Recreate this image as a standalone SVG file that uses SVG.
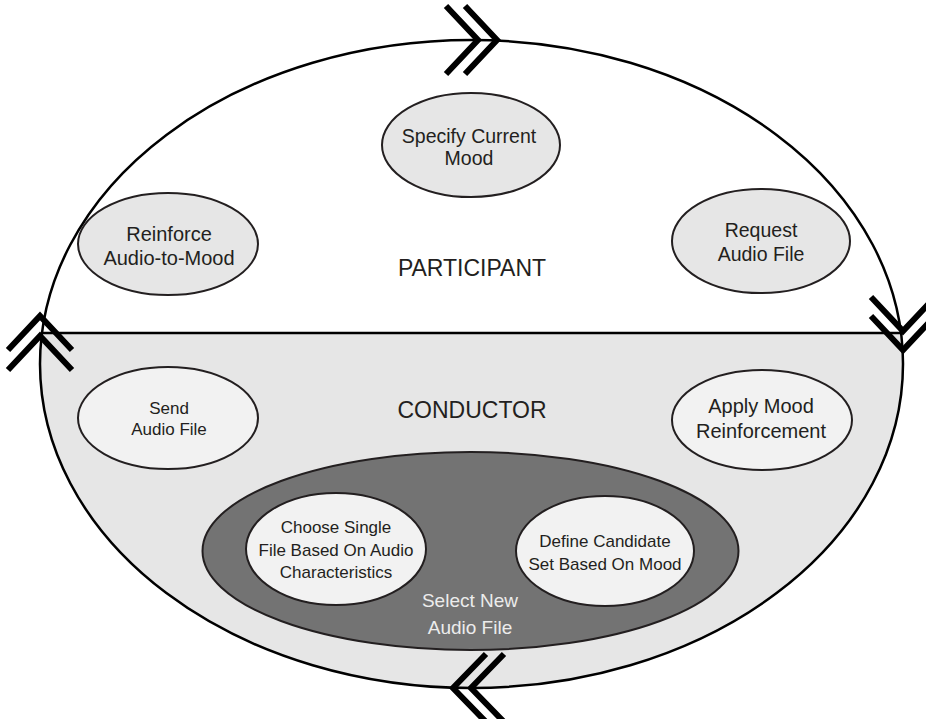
<svg xmlns="http://www.w3.org/2000/svg" width="926" height="719" viewBox="0 0 926 719">
<style>
text{font-family:"Liberation Sans","Open Sans",sans-serif;text-anchor:middle;fill:#231f20}
.s17{font-size:17px}
.s19{font-size:19.5px}
.s20{font-size:20px}
.big{font-size:23px}
.wl{font-size:19px;fill:#ececec}
.pn{fill:#e6e6e6;stroke:#231f20;stroke-width:2}
.cn{fill:#f2f2f2;stroke:#231f20;stroke-width:2}
.chev{fill:none;stroke:#000;stroke-width:6;stroke-linejoin:miter}
</style>
<rect width="926" height="719" fill="#fff"/>
<g id="cycle">
<path d="M42,333 A431.5 324 0 1 0 901 333 Z" fill="#e6e6e6"/>
<ellipse cx="471.5" cy="364" rx="431.5" ry="324" fill="none" stroke="#000" stroke-width="2.5"/>
<line x1="41" y1="333" x2="902" y2="333" stroke="#000" stroke-width="2.5"/>
</g>
<g id="connectors">
<path class="chev" d="M446,6 L478,40 L446,74 M465,6 L497,40 L465,74"/>
<path class="chev" d="M871,297 L903,331 L935,297 M871,316 L903,350 L935,316"/>
<path class="chev" d="M8,350 L40,316 L72,350 M8,370 L40,336 L72,370"/>
<path class="chev" d="M486,654 L453,688 L486,722 M504,654 L471,688 L504,722"/>
</g>
<g id="participant">
<text class="big" x="472" y="276">PARTICIPANT</text>
</g>
<g id="conductor">
<text class="big" x="472" y="418">CONDUCTOR</text>
</g>
<g id="specify">
<ellipse class="pn" cx="471" cy="145" rx="89" ry="52"/>
<text class="s19" x="469" y="143">Specify Current</text>
<text class="s19" x="469" y="165">Mood</text>
</g>
<g id="reinforce">
<ellipse class="pn" cx="168" cy="244" rx="90" ry="51"/>
<text class="s20" x="169" y="241">Reinforce</text>
<text class="s20" x="169" y="265">Audio-to-Mood</text>
</g>
<g id="request">
<ellipse class="pn" cx="761" cy="241" rx="89" ry="52"/>
<text class="s19" x="761" y="237">Request</text>
<text class="s19" x="761" y="261">Audio File</text>
</g>
<g id="send">
<ellipse class="cn" cx="168" cy="418" rx="90" ry="51"/>
<text class="s17" x="169" y="414">Send</text>
<text class="s17" x="169" y="435">Audio File</text>
</g>
<g id="apply">
<ellipse class="cn" cx="762" cy="420" rx="90" ry="50"/>
<text class="s20" x="761" y="413">Apply Mood</text>
<text class="s20" x="761" y="438">Reinforcement</text>
</g>
<g id="select">
<ellipse cx="470.5" cy="551" rx="268" ry="99" fill="#737373" stroke="#231f20" stroke-width="2"/>
<text class="wl" x="470" y="607">Select New</text>
<text class="wl" x="470" y="634">Audio File</text>
</g>
<g id="choose">
<ellipse class="cn" cx="336" cy="549" rx="90" ry="56"/>
<text class="s17" x="336" y="533">Choose Single</text>
<text class="s17" x="336" y="556">File Based On Audio</text>
<text class="s17" x="336" y="578">Characteristics</text>
</g>
<g id="define">
<ellipse class="cn" cx="605" cy="551" rx="89" ry="55"/>
<text class="s17" x="605" y="547">Define Candidate</text>
<text class="s17" x="605" y="570">Set Based On Mood</text>
</g>
</svg>
